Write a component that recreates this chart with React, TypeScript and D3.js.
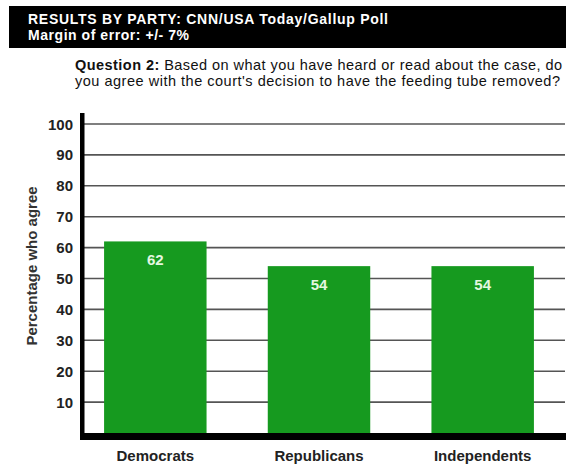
import React from "react";
import * as d3 from "d3";

const categories = ["Democrats", "Republicans", "Independents"];
const values = [62, 54, 54];
const yTicks = [10, 20, 30, 40, 50, 60, 70, 80, 90, 100];
const titleLines = ["RESULTS BY PARTY: CNN/USA Today/Gallup Poll", "Margin of error: +/- 7%"];
const questionLabel = "Question 2:";
const questionLines = [" Based on what you have heard or read about the case, do", "you agree with the court's decision to have the feeding tube removed?"];
const yTitle = "Percentage who agree";

export default function App() {
  const W = 571, H = 466;
  const font = "'Liberation Sans', Arial, sans-serif";
  const y = d3.scaleLinear().domain([0, 100]).range([433, 124]);
  const x = d3.scaleBand().domain(categories).range([84, 554]).paddingInner(0.374).paddingOuter(0.1227);
  return (
    <svg width={W} height={H} style={{ position: "absolute", left: 0, top: 0, background: "#fff" }} fontFamily={font}>
      <rect x={9} y={6} width={557} height={42} fill="#000" />
      <text x={28} y={24} fill="#fff" fontSize={14} fontWeight="bold" textLength={360}>{titleLines[0]}</text>
      <text x={28} y={39.5} fill="#fff" fontSize={14} fontWeight="bold" textLength={161}>{titleLines[1]}</text>
      <text x={75} y={70} fontSize={14.5} fill="#111" textLength={487}>
        <tspan fontWeight="bold">{questionLabel}</tspan>
        <tspan>{questionLines[0]}</tspan>
      </text>
      <text x={75} y={86} fontSize={14.5} fill="#111" textLength={485}>{questionLines[1]}</text>
      {yTicks.map((t) => (
        <g key={t}>
          <line x1={84} x2={565} y1={y(t)} y2={y(t)} stroke="#555" strokeWidth={1.6} />
          <text x={73} y={y(t) + 5.5} textAnchor="end" fontSize={15} fontWeight="bold" fill="#222">{t}</text>
        </g>
      ))}
      {categories.map((c, i) => (
        <g key={c}>
          <rect x={x(c)} y={y(values[i])} width={x.bandwidth()} height={y(0) - y(values[i])} fill="#169a1f" />
          <text x={(x(c) as number) + x.bandwidth() / 2} y={y(values[i]) + 24} textAnchor="middle" fontSize={15} fontWeight="bold" fill="#e4f7e0">{values[i]}</text>
          <text x={(x(c) as number) + x.bandwidth() / 2} y={461} textAnchor="middle" fontSize={15} fontWeight="bold" fill="#222">{c}</text>
        </g>
      ))}
      <rect x={80} y={113} width={4.5} height={327} fill="#000" />
      <rect x={80} y={433} width={486} height={7} fill="#000" />
      <text transform={`translate(37,266) rotate(-90)`} textAnchor="middle" fontSize={15} fontWeight="bold" fill="#333">{yTitle}</text>
    </svg>
  );
}
